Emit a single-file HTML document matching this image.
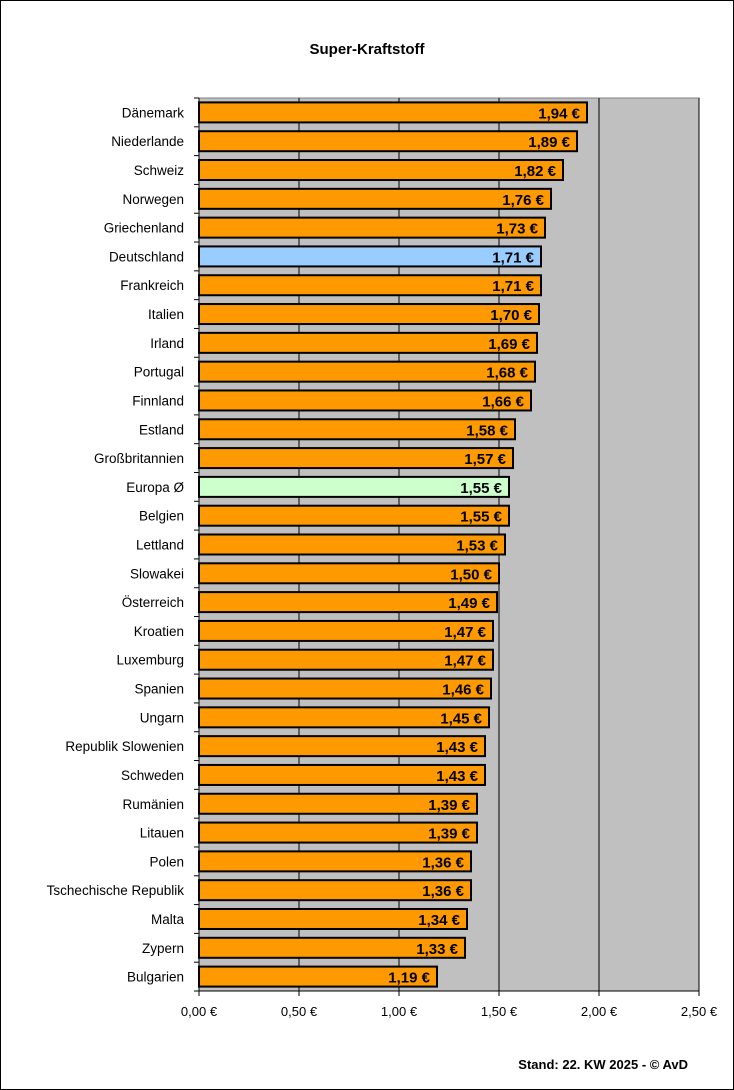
<!DOCTYPE html>
<html><head><meta charset="utf-8"><style>
body{margin:0;background:#fff}
svg{display:block;font-family:"Liberation Sans",sans-serif}
</style></head><body>
<svg id="chart" width="734" height="1090" xmlns="http://www.w3.org/2000/svg">
<rect x="0.5" y="0.5" width="733" height="1089" fill="#fff" stroke="#000"/>
<text x="367" y="54" text-anchor="middle" font-size="15" font-weight="bold">Super-Kraftstoff</text>
<g id="plot"></g>
<text x="688" y="1069" text-anchor="end" font-size="13" font-weight="bold">Stand: 22. KW 2025 - © AvD</text>
</svg>
<script>
const categories=["Dänemark","Niederlande","Schweiz","Norwegen","Griechenland","Deutschland","Frankreich","Italien","Irland","Portugal","Finnland","Estland","Großbritannien","Europa Ø","Belgien","Lettland","Slowakei","Österreich","Kroatien","Luxemburg","Spanien","Ungarn","Republik Slowenien","Schweden","Rumänien","Litauen","Polen","Tschechische Republik","Malta","Zypern","Bulgarien"];
const values=[1.94,1.89,1.82,1.76,1.73,1.71,1.71,1.70,1.69,1.68,1.66,1.58,1.57,1.55,1.55,1.53,1.50,1.49,1.47,1.47,1.46,1.45,1.43,1.43,1.39,1.39,1.36,1.36,1.34,1.33,1.19];
const ticks=[0,0.5,1,1.5,2,2.5];
const tickLabels=["0,00 €","0,50 €","1,00 €","1,50 €","2,00 €","2,50 €"];
const NS="http://www.w3.org/2000/svg";
const L=199,R=699,T=98,B=991,maxV=2.5;
const band=(B-T)/categories.length;
const x=v=>L+v/maxV*(R-L);
const y=i=>T+i*band;
const g=document.getElementById('plot');
function mk(t,a){const e=document.createElementNS(NS,t);for(const k in a)e.setAttribute(k,a[k]);g.appendChild(e);return e;}
let e=mk('rect',{x:L,y:T,width:R-L,height:B-T,fill:'#c0c0c0',stroke:'#808080'});


ticks.forEach((t,i)=>{
 if(i>0){let l=mk('line',{x1:x(t),x2:x(t),y1:T,y2:B,stroke:'#000','stroke-width':1});
 
 }
 let tk=mk('line',{x1:x(t),x2:x(t),y1:B,y2:B+5,stroke:'#000'});
 
 
 let tl=mk('text',{x:x(t),y:B+25,'text-anchor':'middle','font-size':13});
 tl.textContent=tickLabels[i];
 
 
});
categories.forEach((c,i)=>{
 let tk=mk('line',{x1:L-5,x2:L,y1:y(i),y2:y(i),stroke:'#000'});
 
 
 const fill=c==="Deutschland"?'#99ccff':(c==="Europa Ø"?'#ccffcc':'#ff9900');
 let b=mk('rect',{x:L,y:y(i)+band/2-10,width:x(values[i])-L,height:20,fill:fill,stroke:'#000','stroke-width':2});
 
 
 let cl=mk('text',{x:184,y:y(i)+band/2+5,'text-anchor':'end','font-size':13.5});
 cl.textContent=c;
 
 
 let vl=mk('text',{x:x(values[i])-7,y:y(i)+band/2+6,'text-anchor':'end','font-size':15,'font-weight':'bold'});
 vl.textContent=values[i].toFixed(2).replace('.',',')+' €';
 
 
});
let ax=mk('line',{x1:L,x2:L,y1:T,y2:B+5,stroke:'#000'});


let bx=mk('line',{x1:L-5,x2:R,y1:B,y2:B,stroke:'#000'});


</script>
</body></html>
